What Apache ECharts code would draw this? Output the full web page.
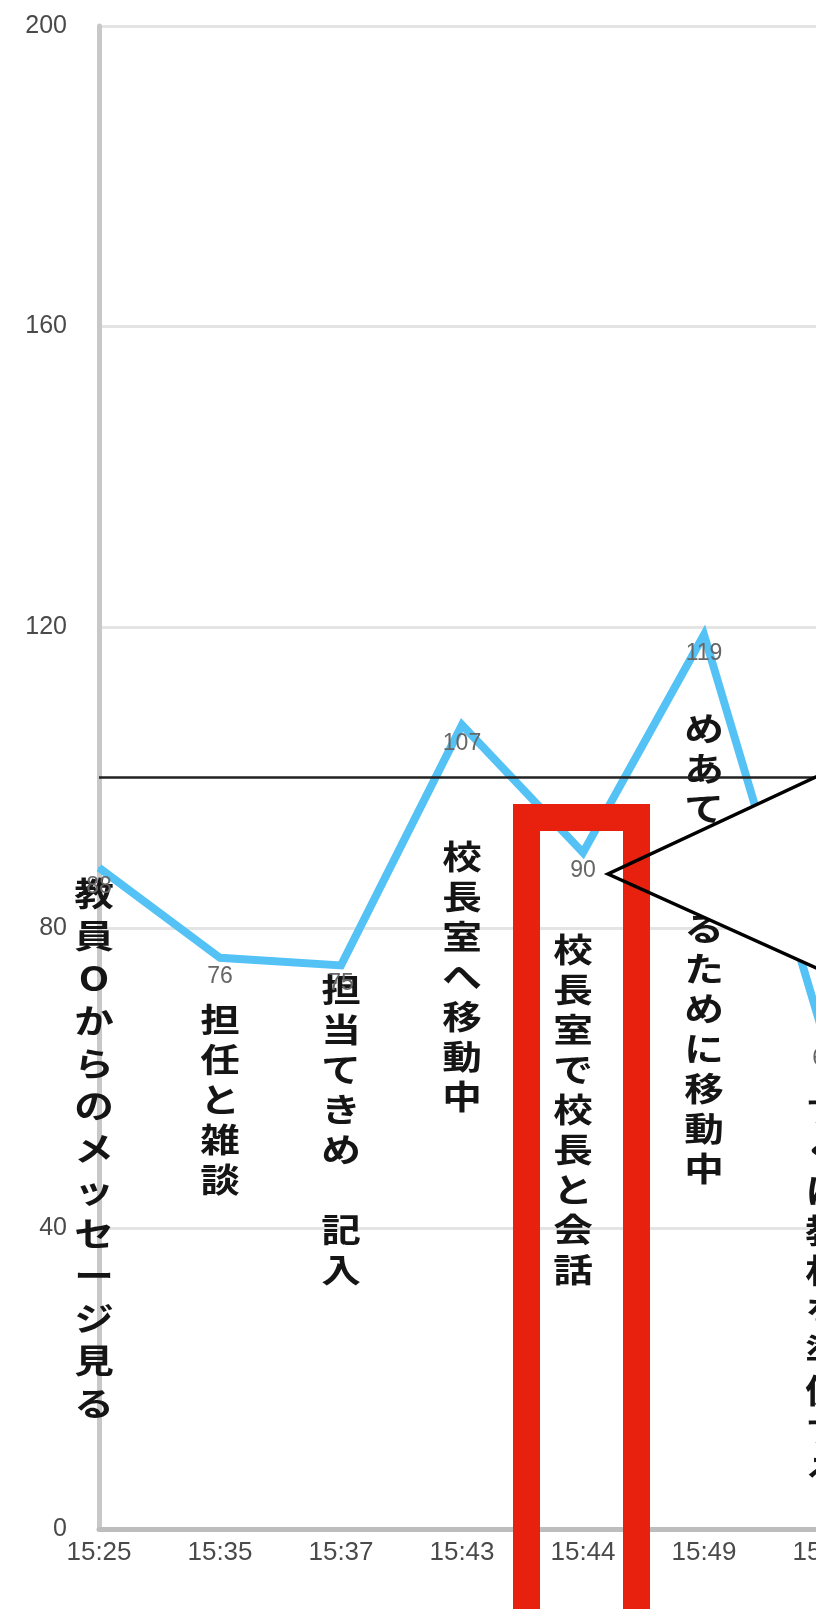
<!DOCTYPE html>
<html>
<head>
<meta charset="utf-8">
<script src="https://cdn.jsdelivr.net/npm/echarts@6/dist/echarts.min.js"></script>
<style>
  html, body { margin: 0; padding: 0; background: #fff; }
  #chart { width: 816px; height: 1609px; }
</style>
</head>
<body>
<div id="chart"></div>
<script>
// ---- data ----
const categories = ['15:25', '15:35', '15:37', '15:43', '15:44', '15:49', '15:52'];
const values = [88, 76, 75, 107, 90, 119, 65];
const yTicks = [0, 40, 80, 120, 160, 200];
const referenceValue = 100;
const noteTexts = [
  '教員Oからのメッセージ見る',
  '担任と雑談',
  '担当てきめ　記入',
  '校長室へ移動中',
  '校長室で校長と会話',
  'めあてを貼るために移動中',
  'すぐに教材を準備する'
];
const noteTops = [87.4, 70.4, 74.4, 92.2, 79.8, 109.2, 58.4];

// ---- chart ----
const chart = echarts.init(document.getElementById('chart'), null, { renderer: 'canvas' });
const vertical = s => Array.from(s).join('\n');
// small horizontal nudges (px) for hand-placed annotation columns
const noteNudge = { 0: -5, 4: -10 };

const option = {
  backgroundColor: '#ffffff',
  animation: false,
  grid: { left: 99, right: -9, top: 26, bottom: 80, containLabel: false, outerBoundsMode: 'none' },
  xAxis: {
    type: 'category',
    data: categories,
    boundaryGap: false,
    axisLine: { show: true, lineStyle: { color: '#bdbdbd', width: 5 } },
    axisTick: { show: false },
    axisLabel: { color: '#4a4a4a', fontSize: 26, margin: 11, fontFamily: 'Liberation Sans', hideOverlap: false },
    splitLine: { show: false }
  },
  yAxis: {
    type: 'value',
    min: yTicks[0],
    max: yTicks[yTicks.length - 1],
    interval: yTicks[1] - yTicks[0],
    axisLine: { show: true, lineStyle: { color: '#c8c8c8', width: 5 } },
    axisTick: { show: false },
    axisLabel: { color: '#4a4a4a', fontSize: 25, margin: 32, fontFamily: 'Liberation Sans' },
    splitLine: { show: true, lineStyle: { color: '#e4e4e4', width: 3 } }
  },
  series: [
    {
      type: 'custom',
      z: 1,
      data: noteTops.map((v, i) => [i, v]),
      renderItem: function (params, api) {
        const p = api.coord([api.value(0), api.value(1)]);
        return {
          type: 'text',
          x: p[0] + (noteNudge[params.dataIndex] || 0),
          y: p[1],
          scaleX: 1.2,
          style: {
            text: vertical(noteTexts[params.dataIndex]),
            fill: '#151515',
            fontSize: 33,
            fontWeight: 'bold',
            fontFamily: '"Noto Sans CJK JP", sans-serif',
            lineHeight: params.dataIndex === 0 ? 42.5 : 40,
            align: 'center',
            verticalAlign: 'top'
          }
        };
      }
    },
    {
      type: 'line',
      z: 2,
      data: values,
      showSymbol: true,
      symbol: 'circle',
      symbolSize: 2,
      itemStyle: { color: '#55C2F6' },
      lineStyle: { color: '#55C2F6', width: 8, join: 'miter' },
      label: {
        show: true,
        position: 'bottom',
        distance: 6,
        color: '#666',
        fontSize: 23,
        fontFamily: 'Liberation Sans'
      },
      labelLayout: { hideOverlap: false },
      markLine: {
        silent: true,
        symbol: 'none',
        label: { show: false },
        lineStyle: { color: '#222', width: 2.5, type: 'solid' },
        data: [{ yAxis: referenceValue }]
      }
    }
  ],
  graphic: [
    {
      type: 'polygon',
      z: 100,
      shape: { points: [[608, 874], [1000, 691], [1000, 1051]] },
      style: { fill: '#ffffff', stroke: null }
    },
    {
      type: 'rect',
      z: 101,
      shape: { x: 526.5, y: 817.5, width: 110, height: 1000 },
      style: { fill: null, stroke: '#E8200E', lineWidth: 27 }
    },
    {
      type: 'polyline',
      z: 102,
      shape: { points: [[1000, 691], [608, 874], [1000, 1051]] },
      style: { fill: null, stroke: '#000', lineWidth: 3.5 }
    }
  ]
};
chart.setOption(option);
</script>
</body>
</html>
